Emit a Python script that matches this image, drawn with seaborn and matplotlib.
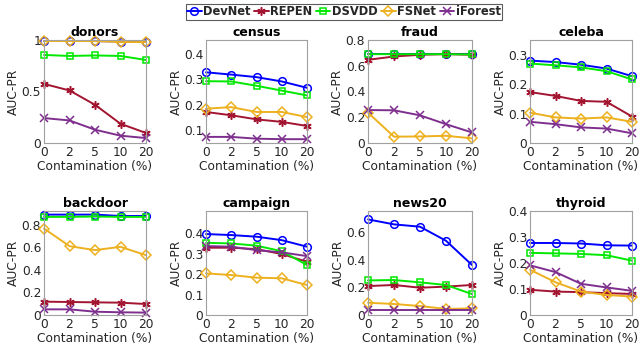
import matplotlib
matplotlib.use("Agg")
import matplotlib.pyplot as plt
import seaborn as sns
import pandas as pd
from matplotlib.lines import Line2D

contam_labels = ["0", "2", "5", "10", "20"]
methods = ["DevNet", "REPEN", "DSVDD", "FSNet", "iForest"]
datasets = ["donors", "census", "fraud", "celeba", "backdoor", "campaign", "news20", "thyroid"]

donors_devnet = [0.99, 0.99, 0.99, 0.985, 0.985]
donors_repen = [0.574, 0.51, 0.371, 0.187, 0.097]
donors_dsvdd = [0.855, 0.845, 0.85, 0.845, 0.806]
donors_fsnet = [0.99, 0.99, 0.99, 0.98, 0.98]
donors_iforest = [0.242, 0.219, 0.129, 0.071, 0.048]

census_devnet = [0.328, 0.319, 0.309, 0.292, 0.267]
census_repen = [0.172, 0.159, 0.143, 0.133, 0.117]
census_dsvdd = [0.293, 0.292, 0.275, 0.256, 0.237]
census_fsnet = [0.185, 0.191, 0.172, 0.172, 0.152]
census_iforest = [0.074, 0.074, 0.067, 0.065, 0.065]

fraud_devnet = [0.692, 0.692, 0.692, 0.692, 0.692]
fraud_repen = [0.646, 0.672, 0.685, 0.69, 0.685]
fraud_dsvdd = [0.69, 0.69, 0.69, 0.69, 0.688]
fraud_fsnet = [0.236, 0.049, 0.051, 0.056, 0.036]
fraud_iforest = [0.256, 0.254, 0.215, 0.146, 0.082]

celeba_devnet = [0.280, 0.275, 0.266, 0.253, 0.227]
celeba_repen = [0.173, 0.160, 0.143, 0.140, 0.090]
celeba_dsvdd = [0.270, 0.264, 0.257, 0.244, 0.216]
celeba_fsnet = [0.103, 0.087, 0.083, 0.087, 0.072]
celeba_iforest = [0.072, 0.064, 0.053, 0.049, 0.033]

backdoor_devnet = [0.888, 0.888, 0.888, 0.876, 0.876]
backdoor_repen = [0.118, 0.115, 0.112, 0.109, 0.097]
backdoor_dsvdd = [0.868, 0.868, 0.871, 0.868, 0.868]
backdoor_fsnet = [0.765, 0.609, 0.574, 0.603, 0.529]
backdoor_iforest = [0.05, 0.05, 0.029, 0.024, 0.021]

campaign_devnet = [0.397, 0.392, 0.384, 0.367, 0.335]
campaign_repen = [0.33, 0.33, 0.323, 0.299, 0.261]
campaign_dsvdd = [0.354, 0.351, 0.340, 0.313, 0.245]
campaign_fsnet = [0.204, 0.196, 0.183, 0.180, 0.147]
campaign_iforest = [0.338, 0.335, 0.318, 0.307, 0.289]

news20_devnet = [0.694, 0.658, 0.641, 0.539, 0.363]
news20_repen = [0.210, 0.218, 0.198, 0.206, 0.218]
news20_dsvdd = [0.251, 0.254, 0.237, 0.218, 0.152]
news20_fsnet = [0.089, 0.080, 0.065, 0.044, 0.048]
news20_iforest = [0.036, 0.036, 0.036, 0.036, 0.036]

thyroid_devnet = [0.277, 0.277, 0.275, 0.268, 0.267]
thyroid_repen = [0.097, 0.090, 0.088, 0.084, 0.081]
thyroid_dsvdd = [0.239, 0.237, 0.235, 0.230, 0.209]
thyroid_fsnet = [0.174, 0.126, 0.090, 0.077, 0.071]
thyroid_iforest = [0.191, 0.165, 0.120, 0.106, 0.093]

values = {
    "donors": [donors_devnet, donors_repen, donors_dsvdd, donors_fsnet, donors_iforest],
    "census": [census_devnet, census_repen, census_dsvdd, census_fsnet, census_iforest],
    "fraud": [fraud_devnet, fraud_repen, fraud_dsvdd, fraud_fsnet, fraud_iforest],
    "celeba": [celeba_devnet, celeba_repen, celeba_dsvdd, celeba_fsnet, celeba_iforest],
    "backdoor": [backdoor_devnet, backdoor_repen, backdoor_dsvdd, backdoor_fsnet, backdoor_iforest],
    "campaign": [campaign_devnet, campaign_repen, campaign_dsvdd, campaign_fsnet, campaign_iforest],
    "news20": [news20_devnet, news20_repen, news20_dsvdd, news20_fsnet, news20_iforest],
    "thyroid": [thyroid_devnet, thyroid_repen, thyroid_dsvdd, thyroid_fsnet, thyroid_iforest],
}

ylims = {
    "donors": (0, 1.0), "census": (0.05, 0.455), "fraud": (0, 0.8), "celeba": (0, 0.35),
    "backdoor": (0, 0.92), "campaign": (0, 0.51), "news20": (0, 0.755), "thyroid": (0, 0.4),
}
yticks = {
    "donors": [0, 0.5, 1], "census": [0.1, 0.2, 0.3, 0.4], "fraud": [0, 0.2, 0.4, 0.6, 0.8],
    "celeba": [0, 0.1, 0.2, 0.3], "backdoor": [0, 0.2, 0.4, 0.6, 0.8],
    "campaign": [0, 0.1, 0.2, 0.3, 0.4], "news20": [0, 0.2, 0.4, 0.6],
    "thyroid": [0, 0.1, 0.2, 0.3, 0.4],
}

colors = {"DevNet": "#0000FF", "REPEN": "#A2142F", "DSVDD": "#00E800",
          "FSNet": "#EDB120", "iForest": "#7E2F8E"}
markers = {"DevNet": "o", "REPEN": (6, 2, 0), "DSVDD": "s", "FSNet": "D", "iForest": "x"}
msizes = {"DevNet": 5.5, "REPEN": 6, "DSVDD": 4.8, "FSNet": 5.2, "iForest": 5.2}

sns.set_theme(style="white")
plt.rcParams["font.family"] = ["DejaVu Sans"]
textc = "#262626"
spinec = "#a0a0a0"
fs = 8.8

fig = plt.figure(figsize=(6.41, 3.52), dpi=100)
W, H = 641, 352
cols = [(44, 146), (206, 307), (368, 472), (530, 632)]
rows = [(40, 143), (211, 315)]

for i, ds in enumerate(datasets):
    r, c = divmod(i, 4)
    x0, x1 = cols[c]
    y0, y1 = rows[r]
    ax = fig.add_axes([x0 / W, 1 - y1 / H, (x1 - x0) / W, (y1 - y0) / H])
    recs = []
    for m, vals in zip(methods, values[ds]):
        for p, v in enumerate(vals):
            recs.append({"pos": p, "val": v, "method": m})
    df = pd.DataFrame(recs)
    for m in methods:
        sub = df[df["method"] == m]
        sns.lineplot(data=sub, x="pos", y="val", ax=ax, color=colors[m],
                     marker=markers[m], markersize=msizes[m], linewidth=1.4,
                     clip_on=False, legend=False)
    for ln, m in zip(ax.get_lines(), methods):
        ln.set_markerfacecolor("none")
        ln.set_markeredgecolor(colors[m])
        ln.set_markeredgewidth(1.1)
    ax.set_xlim(0, 4)
    ax.set_ylim(*ylims[ds])
    ax.set_xticks(range(5))
    ax.set_xticklabels(contam_labels)
    ax.set_yticks(yticks[ds])
    ax.set_yticklabels([f"{v:g}" for v in yticks[ds]])
    ax.tick_params(direction="in", length=3, color=spinec, labelsize=fs,
                   labelcolor=textc, pad=2)
    for s in ax.spines.values():
        s.set_color(spinec)
        s.set_linewidth(0.8)
    ax.set_title(ds, fontsize=9, fontweight="bold", color="black", pad=3)
    ax.set_xlabel("Contamination (%)", fontsize=fs, color=textc, labelpad=1)
    ax.set_ylabel("AUC-PR", fontsize=fs, color=textc, labelpad=1)

handles = [Line2D([], [], color=colors[m], marker=markers[m], markersize=msizes[m],
                  markerfacecolor="none", markeredgecolor=colors[m], markeredgewidth=1.1,
                  linewidth=1.4) for m in methods]
leg = fig.legend(handles, methods, loc="upper center", bbox_to_anchor=(344 / W, 1 - 4 / H),
                 ncol=5, frameon=True, fancybox=False, handlelength=1.25, handletextpad=0.15,
                 columnspacing=0.3, borderpad=0.12, borderaxespad=0,
                 prop={"weight": "bold", "size": 8.3})
leg.get_frame().set_edgecolor("#333333")
leg.get_frame().set_linewidth(0.8)

fig.savefig("out.png", dpi=100)
